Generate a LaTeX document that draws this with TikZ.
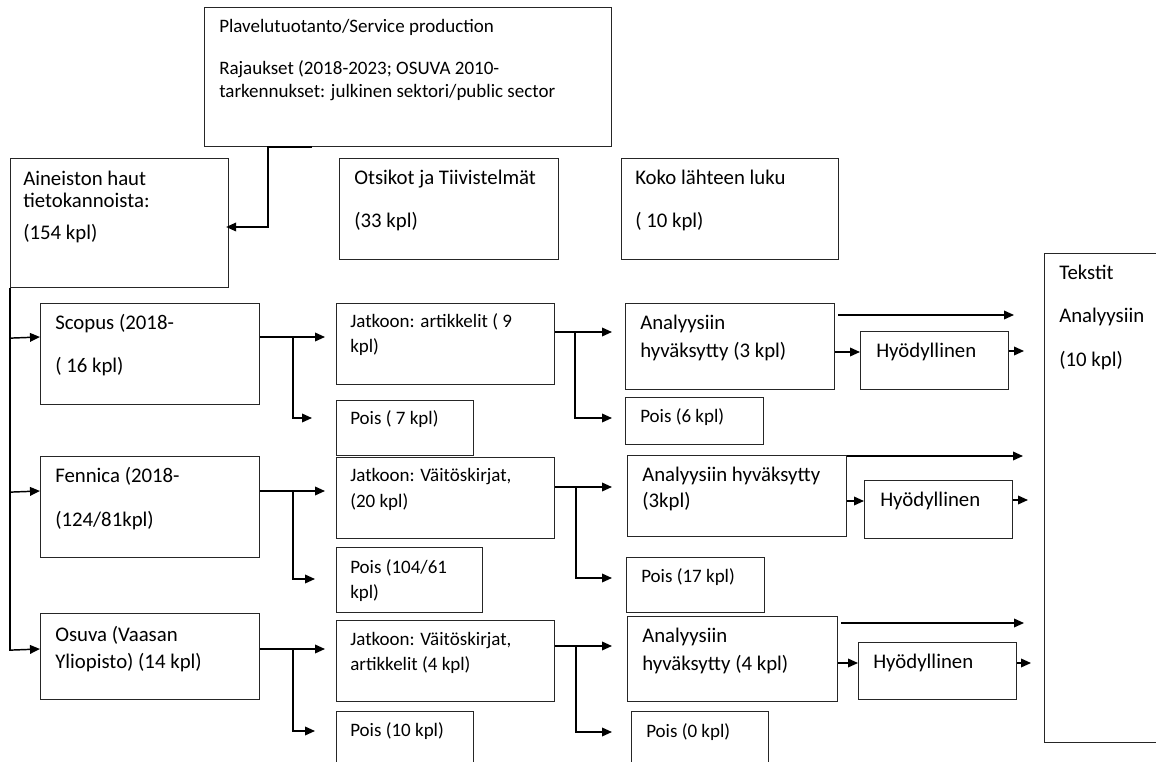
\documentclass[tikz,border=0pt]{standalone}
\usepackage{fontspec}
\setmainfont{Carlito}
\usetikzlibrary{arrows.meta,calc}
\newcounter{tlc}
\newcommand\bx[6][]{\node[box,#1,minimum width={(#5-(#3))*0.75pt},minimum height={(#6-(#4))*0.75pt}] (#2) at (#3,#4) {};}
\newcommand\tl[4][fa]{\stepcounter{tlc}\node[txt,#1] (t\thetlc) at (#2,#3) {#4};}
\begin{document}
\begin{tikzpicture}[x=0.75pt,y=-0.75pt,
  box/.style={draw=black!85,line width=0.85pt,inner sep=0pt,anchor=north west},
  fa/.style={font=\fontsize{15.6}{18}\selectfont},
  fb/.style={font=\fontsize{14.25}{17}\selectfont},
  txt/.style={inner sep=0pt,anchor=base west,text=black},
  con/.style={line width=1.1pt},
  arr/.style={con,-{Triangle[length=7.5pt,width=6.5pt]}}]
\useasboundingbox (0,0) rectangle (1156,762);
\fill[white] (0,0) rectangle (1156,762);
\clip (0,0) rectangle (1156,762);
% boxes
\bx{top}{204}{7}{611}{146}
\bx{ain}{10}{158}{228}{287}
\bx{ots}{339}{158}{558}{259}
\bx{kok}{621}{158}{838}{259}
\bx{tek}{1044}{253}{1175}{742}
\bx{sco}{40}{303}{259}{404}
\bx{fen}{40}{456}{259}{557}
\bx{osu}{40}{613}{259}{699}
\bx{ja1}{336}{303}{554}{384}
\bx{ja2}{336}{457}{554}{538}
\bx{ja3}{336}{620}{554}{701}
\bx{pm1}{336}{400}{473}{455}
\bx{pm2}{336}{547}{482}{612}
\bx{pm3}{336}{711}{473}{780}
\bx{an1}{625}{303}{834}{389}
\bx{an2}{627}{455}{846}{536}
\bx{an3}{627}{616}{837}{701}
\bx{pr1}{625}{397}{763}{444}
\bx{pr2}{626}{557}{764}{612}
\bx{pr3}{631}{711}{768}{780}
\bx{hy1}{860}{331}{1008}{389}
\bx{hy2}{864}{480}{1012}{538}
\bx{hy3}{858}{642}{1016}{699}
% texts
\tl[fb]{219}{33}{Plavelutuotanto/Service production}
\tl[fb]{219}{75}{Rajaukset (2018-2023; OSUVA 2010-}
\tl[fb]{219}{98}{tarkennukset: julkinen sektori/public sector}
\tl{23}{186}{Aineiston haut}
\tl{23}{208}{tietokannoista:}
\tl{23}{240}{(154 kpl)}
\tl{354}{185}{Otsikot ja Tiivistelmät}
\tl{354}{228}{(33 kpl)}
\tl{635}{185}{Koko lähteen luku}
\tl{635}{228}{( 10 kpl)}
\tl{1059}{280}{Tekstit}
\tl{1059}{323}{Analyysiin}
\tl{1059}{367}{(10 kpl)}
\tl{55}{330}{Scopus (2018-}
\tl{55}{373}{( 16 kpl)}
\tl{55}{483}{Fennica (2018-}
\tl{55}{526}{(124/81kpl)}
\tl{55}{641}{Osuva (Vaasan}
\tl{55}{668}{Yliopisto) (14 kpl)}
\tl[fb]{350}{328}{Jatkoon: artikkelit ( 9}
\tl[fb]{350}{353}{kpl)}
\tl[fb]{350}{425}{Pois ( 7 kpl)}
\tl[fb]{350}{482}{Jatkoon: Väitöskirjat,}
\tl[fb]{350}{507}{(20 kpl)}
\tl[fb]{350}{573}{Pois (104/61}
\tl[fb]{350}{598}{kpl)}
\tl[fb]{350}{645}{Jatkoon: Väitöskirjat,}
\tl[fb]{350}{670}{artikkelit (4 kpl)}
\tl[fb]{350}{736}{Pois (10 kpl)}
\tl{640}{330}{Analyysiin}
\tl{640}{358}{hyväksytty (3 kpl)}
\tl[fb]{640}{423}{Pois (6 kpl)}
\tl{642}{482}{Analyysiin hyväksytty}
\tl{642}{508}{(3kpl)}
\tl[fb]{641}{582}{Pois (17 kpl)}
\tl{642}{642}{Analyysiin}
\tl{642}{670}{hyväksytty (4 kpl)}
\tl[fb]{646}{737}{Pois (0 kpl)}
\tl{876}{358}{Hyödyllinen}
\tl{880}{506}{Hyödyllinen}
\tl{873}{668}{Hyödyllinen}
% connectors
\draw[arr] ($(top.south west)+(108,0)$) -- ($(top.south west)+(64,0)$) |- ($(ain.north east)+(-3,69)$);
\draw[con] (ain.south west) -- ($(ain.south west)+(0,363)$);
\draw[arr] ($(ain.south west)+(0,50)$) -- ($(sco.north west)+(0,34)$);
\draw[arr] ($(ain.south west)+(0,204)$) -- ($(fen.north west)+(0,35)$);
\draw[arr] ($(ain.south west)+(0,362)$) -- ($(osu.north west)+(0,36)$);
\draw[arr] ($(sco.north east)+(0,34)$) -- ($(ja1.north west)+(-11,34)$);
\draw[arr] ($(sco.north east)+(33,34)$) |- ($(pm1.north west)+(-24,18)$);
\draw[arr] ($(fen.north east)+(0,35)$) -- ($(ja2.north west)+(-11,34)$);
\draw[arr] ($(fen.north east)+(33,35)$) |- ($(pm2.north west)+(-21,32)$);
\draw[arr] ($(osu.north east)+(0,36)$) -- ($(ja3.north west)+(-11,29)$);
\draw[arr] ($(osu.north east)+(33,36)$) |- ($(pm3.north west)+(-21,20)$);
\draw[arr] ($(ja1.north east)+(0,29)$) -- ($(an1.north west)+(-13,29)$);
\draw[arr] ($(ja1.north east)+(20,29)$) |- ($(pr1.north west)+(-13,21)$);
\draw[arr] ($(ja2.north east)+(0,30)$) -- ($(an2.north west)+(-15,32)$);
\draw[arr] ($(ja2.north east)+(21,30)$) |- ($(pr2.north west)+(-14,21)$);
\draw[arr] ($(ja3.north east)+(0,26)$) -- ($(an3.north west)+(-15,30)$);
\draw[arr] ($(ja3.north east)+(21,26)$) |- ($(pr3.north west)+(-19,21)$);
\draw[arr] ($(an1.north east)+(0,49)$) -- ($(hy1.north west)+(0,21)$);
\draw[arr] ($(an2.north east)+(0,46)$) -- ($(hy2.north west)+(0,21)$);
\draw[arr] ($(an3.north east)+(0,47)$) -- ($(hy3.north west)+(0,21)$);
\draw[arr] ($(hy1.north east)+(0,20)$) -- ($(tek.north west)+(-20,98)$);
\draw[arr] ($(hy2.north east)+(0,20)$) -- ($(tek.north west)+(-16,247)$);
\draw[arr] ($(hy3.north east)+(0,21)$) -- ($(tek.north west)+(-13,410)$);
\draw[arr] ($(an1.north east)+(3,12)$) -- ($(tek.north west)+(-30,62)$);
\draw[arr] ($(an2.north east)+(0,1)$) -- ($(tek.north west)+(-21,203)$);
\draw[arr] ($(an3.north east)+(3,7)$) -- ($(tek.north west)+(-20,370)$);
\end{tikzpicture}
\end{document}
